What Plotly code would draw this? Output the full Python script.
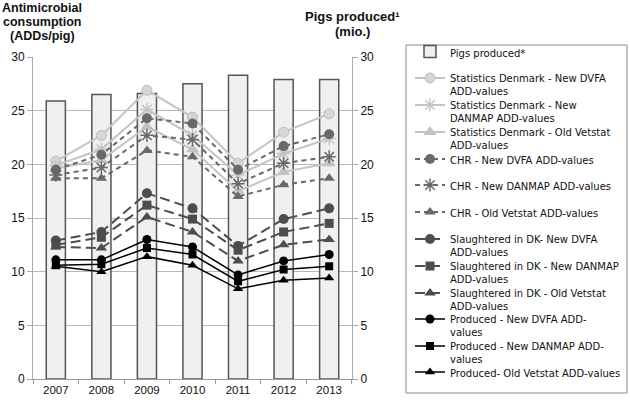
import plotly.graph_objects as go

years = ["2007", "2008", "2009", "2010", "2011", "2012", "2013"]
pigs_produced = [25.9, 26.5, 26.6, 27.5, 28.3, 27.9, 27.9]

stat_dvfa = [20.3, 22.7, 26.9, 24.4, 20.1, 23.0, 24.7]
stat_danmap = [19.9, 21.4, 25.1, 22.7, 19.0, 21.0, 22.4]
stat_vetstat = [19.6, 20.4, 23.5, 21.4, 17.5, 19.3, 20.1]
chr_dvfa = [19.5, 20.9, 24.3, 23.8, 19.5, 21.7, 22.8]
chr_danmap = [19.0, 19.7, 22.7, 22.3, 18.2, 20.1, 20.7]
chr_vetstat = [18.7, 18.7, 21.3, 20.7, 17.0, 18.1, 18.7]
sl_dvfa = [12.9, 13.7, 17.3, 15.9, 12.4, 14.9, 15.9]
sl_danmap = [12.5, 13.2, 16.2, 14.9, 12.0, 13.7, 14.5]
sl_vetstat = [12.3, 12.2, 15.1, 13.7, 11.0, 12.5, 13.0]
pr_dvfa = [11.1, 11.1, 13.0, 12.3, 9.7, 11.0, 11.6]
pr_danmap = [10.6, 10.7, 12.2, 11.6, 9.1, 10.2, 10.5]
pr_vetstat = [10.5, 10.0, 11.4, 10.6, 8.4, 9.2, 9.4]

left_title = ["Antimicrobial", "consumption", "(ADDs/pig)"]
right_title = ["Pigs produced¹", "(mio.)"]

# plot area geometry (pixels): left 33, right 352, top 57, bottom 379
PL, PR, PT, PB = 33, 352, 57, 379
def px_x(px):
    return (px - PL) / (PR - PL)
def px_y(py):
    return (PB - py) / (PB - PT)

# first-line centre of every legend entry (pixels from top)
legend_rows = [53.5, 80, 107, 134, 161, 187, 214, 241, 268, 295, 321, 348, 374]
LEG_OFFSET = 15

fig = go.Figure()

fig.add_trace(go.Bar(
    x=years, y=pigs_produced, name="Pigs produced*", yaxis="y", legend="legend",
    width=0.42, marker=dict(color="#f0f0f0", line=dict(color="#555555", width=1.5)),
))

light = "#c4c4c4"
mid = "#696969"
dark = "#4d4d4d"
black = "#000000"

series = [
    ("Statistics Denmark - New DVFA<br>ADD-values", stat_dvfa, light, "solid", 2, "circle", "#d6d6d6", 10),
    ("Statistics Denmark - New<br>DANMAP ADD-values", stat_danmap, light, "solid", 2, "asterisk-open", light, 10),
    ("Statistics Denmark - Old Vetstat<br>ADD-values", stat_vetstat, light, "solid", 2, "triangle-up", light, 10),
    ("CHR - New DVFA ADD-values", chr_dvfa, mid, "5px,4px", 2, "circle", mid, 10),
    ("CHR - New DANMAP ADD-values", chr_danmap, mid, "5px,4px", 2, "asterisk-open", mid, 10),
    ("CHR - Old Vetstat ADD-values", chr_vetstat, mid, "5px,4px", 2, "triangle-up", mid, 10),
    ("Slaughtered in DK- New DVFA<br>ADD-values", sl_dvfa, dark, "10px,5px", 2, "circle", dark, 10),
    ("Slaughtered in DK - New DANMAP<br>ADD-values", sl_danmap, dark, "10px,5px", 2, "square", dark, 9),
    ("Slaughtered in DK - Old Vetstat<br>ADD-values", sl_vetstat, dark, "10px,5px", 2, "triangle-up", dark, 10),
    ("Produced - New DVFA ADD-<br>values", pr_dvfa, black, "solid", 1.5, "circle", black, 9),
    ("Produced - New DANMAP ADD-<br>values", pr_danmap, black, "solid", 1.5, "square", black, 8),
    ("Produced- Old Vetstat ADD-values", pr_vetstat, black, "solid", 1.5, "triangle-up", black, 9),
]

for i, (name, vals, col, dash, w, sym, mcol, msize) in enumerate(series):
    if sym == "asterisk-open":
        marker = dict(symbol=sym, size=msize + 1, color=mcol, line=dict(color=mcol, width=1.5))
    elif col == light:
        marker = dict(symbol=sym, size=msize, color=mcol, line=dict(color="#bdbdbd", width=1))
    else:
        marker = dict(symbol=sym, size=msize, color=mcol, line=dict(color=mcol, width=0))
    fig.add_trace(go.Scatter(
        x=years, y=vals, name=name, yaxis="y2", mode="lines+markers",
        legend="legend%d" % (i + 2),
        line=dict(color=col, dash=dash, width=w), marker=marker,
    ))

annotations = []
for txt, py in zip(left_title, [8, 22, 36]):
    annotations.append(dict(
        text="<b>%s</b>" % txt, xref="paper", yref="paper",
        x=px_x(42), y=px_y(py), xanchor="center", yanchor="middle",
        showarrow=False, font=dict(size=12.5, color="#111")))
for txt, py in zip(right_title, [16, 32]):
    annotations.append(dict(
        text="<b>%s</b>" % txt, xref="paper", yref="paper",
        x=px_x(352), y=px_y(py), xanchor="center", yanchor="middle",
        showarrow=False, font=dict(size=13, color="#111")))

legend_layout = {}
for i, row in enumerate(legend_rows):
    key = "legend" if i == 0 else "legend%d" % (i + 1)
    legend_layout[key] = dict(
        x=px_x(410), y=px_y(row - LEG_OFFSET), xanchor="left", yanchor="top",
        bgcolor="rgba(0,0,0,0)", borderwidth=0,
        font=dict(family="DejaVu Sans, sans-serif", size=10, color="#111"),
        valign="top",
    )

fig.update_layout(
    width=630, height=400,
    margin=dict(l=PL, r=630 - PR, t=PT, b=400 - PB, autoexpand=False),
    paper_bgcolor="white", plot_bgcolor="white",
    font=dict(family="Liberation Sans, Arial, sans-serif", size=12, color="#222"),
    showlegend=True,
    xaxis=dict(
        type="category", showline=True, linecolor="#999", linewidth=1,
        ticks="outside", tickson="boundaries", ticklen=4, tickcolor="#999",
        showgrid=False, tickfont=dict(size=11.5, color="#111"),
    ),
    yaxis=dict(
        side="right", range=[0, 30], tick0=0, dtick=5, showgrid=True,
        gridcolor="#b8b8b8", gridwidth=1, showline=True, linecolor="#aaa",
        ticks="outside", ticklen=5, tickcolor="#aaa", zeroline=False,
        tickfont=dict(size=12, color="#111"),
    ),
    yaxis2=dict(
        overlaying="y", side="left", range=[0, 30], tick0=0, dtick=5,
        showgrid=False, showline=True, linecolor="#aaa", ticks="outside",
        ticklen=5, tickcolor="#aaa", zeroline=False,
        tickfont=dict(size=12, color="#111"),
    ),
    shapes=[dict(
        type="rect", xref="paper", yref="paper",
        x0=px_x(406), x1=px_x(627), y0=px_y(393), y1=px_y(45),
        line=dict(color="#8a8a8a", width=1), fillcolor="rgba(0,0,0,0)",
    )],
    annotations=annotations,
    **legend_layout,
)

fig.write_html("out.html", config={"displayModeBar": False},
               post_script="document.body.style.margin='0px';")
